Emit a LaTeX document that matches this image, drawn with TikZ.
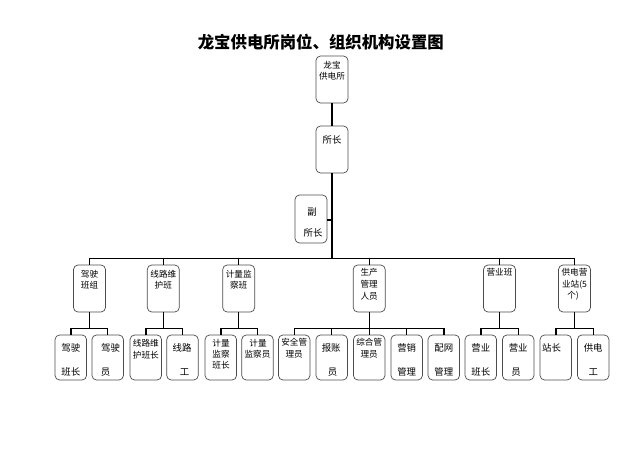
\documentclass[tikz,border=0pt]{standalone}
\usepackage{fontspec}
\newfontfamily\cjk{Noto Sans CJK SC}
\begin{document}
\begin{tikzpicture}[x=1pt,y=-1pt,
  box/.style={draw=black!70,line width=0.7pt,rounded corners=4.5pt,minimum width=32pt,inner sep=0pt},
  tx/.style={font=\cjk\fontsize{8.6}{10}\selectfont,inner sep=0pt},
  big/.style={font=\cjk\fontsize{9.4}{11}\selectfont,inner sep=0pt},
  conn/.style={line width=1.4pt,black}]
\useasboundingbox (0,0) rectangle (640,452);
\node[font=\cjk\bfseries\fontsize{16.4}{18}\selectfont] (title) at (320.8,41.7) {龙宝供电所岗位、组织机构设置图};
% top chain
\node[box,minimum height=47pt] (root) at (332,79.5) {};
\node[tx] (r1) at (332,65) {龙宝};
\node[tx] (r2) at (332,76) {供电所};
\node[box,minimum height=47pt] (suo) at (332,149.5) {};
\node[big] (s1) at (332,140) {所长};
\node[box,minimum height=48pt] (fu) at (311,219) {};
\node[big] (f1t) at (312,211.7) {副};
\node[big] (f2t) at (313,233) {所长};
% level 2
\foreach \n/\x in {d2a/89.5,d2b/163.3,d2c/238.7,d2d/369.2,d2e/499.5,d2f/574.5}
  \node[box,minimum height=47pt] (\n) at (\x,288.5) {};
\node[tx] (t2a1) at (89.5,274) {驾驶};
\node[tx] (t2a2) at (89.5,285.5) {班组};
\node[tx] (t2b1) at (163.3,274) {线路维};
\node[tx] (t2b2) at (163.3,285.5) {护班};
\node[tx] (t2c1) at (238.7,274) {计量监};
\node[tx] (t2c2) at (238.7,285.5) {察班};
\node[tx] (t2d1) at (369.2,272.7) {生产};
\node[tx] (t2d2) at (369.2,284.3) {管理};
\node[tx] (t2d3) at (369.2,296) {人员};
\node[tx] (t2e1) at (499.5,272.5) {营业班};
\node[tx] (t2f1) at (574.5,272.5) {供电营};
\node[tx] (t2f2) at (574.5,284.3) {业站(5};
\node[tx] (t2f3) at (573,296) {个)};
% level 3
\foreach \n/\x in {a1/70.8,a2/107.7,b1/145.8,b2/182.5,c1/220.8,c2/257.5,d1/294.2,d2/331.7,d3/369.2,d4/406.7,d5/443.8,e1/480.8,e2/518.2,f1/555.8,f2/593.2}
  \node[box,minimum width=31.5pt,minimum height=45pt] (\n) at (\x,357.5) {};
\node[big] (ta11) at (70.8,348.3) {驾驶};
\node[big] (ta12) at (70.8,371.7) {班长};
\node[big] (ta21) at (110.5,348.3) {驾驶};
\node[big] (ta22) at (105.5,371.7) {员};
\node[tx] (tb11) at (145.8,343.5) {线路维};
\node[tx] (tb12) at (145.8,355) {护班长};
\node[big] (tb21) at (182,348.3) {线路};
\node[big] (tb22) at (184.5,371.7) {工};
\node[tx] (tc11) at (221,343) {计量};
\node[tx] (tc12) at (221,354) {监察};
\node[tx] (tc13) at (221,365) {班长};
\node[tx] (tc21) at (258,343) {计量};
\node[tx] (tc22) at (257.5,354) {监察员};
\node[tx] (td11) at (294.2,342.5) {安全管};
\node[tx] (td12) at (294.2,354) {理员};
\node[big] (td21) at (331.2,348.3) {报账};
\node[big] (td22) at (332.5,371.7) {员};
\node[tx] (td31) at (369.2,342.5) {综合管};
\node[tx] (td32) at (369.2,354) {理员};
\node[big] (td41) at (406.7,348.3) {营销};
\node[big] (td42) at (406.7,371.7) {管理};
\node[big] (td51) at (443.8,348.3) {配网};
\node[big] (td52) at (443.8,371.7) {管理};
\node[big] (te11) at (480.8,348.3) {营业};
\node[big] (te12) at (480.8,371.7) {班长};
\node[big] (te21) at (518.2,348.3) {营业};
\node[big] (te22) at (516,371.7) {员};
\node[big] (tf11) at (551.5,348.3) {站长};
\node[big] (tf21) at (593.2,348.3) {供电};
\node[big] (tf22) at (593.2,371.7) {工};
% connectors
\coordinate (bus) at (332,258.3);
\coordinate (sub) at (0,328.3);
\coordinate (fuj) at (332,220);
\draw[conn] (root.south) -- (suo.north);
\draw[conn] (suo.south) -- (bus);
\draw[conn] (fu.east |- fuj) -- (fuj);
\draw[conn] (d2a.north) -- (d2a.north |- bus) -- (d2f.north |- bus) -- (d2f.north);
\foreach \n in {d2b,d2c,d2d,d2e}
  \draw[conn] (\n.north) -- (\n.north |- bus);
\foreach \p/\l/\r in {d2a/a1/a2,d2b/b1/b2,d2c/c1/c2,d2d/d1/d5,d2e/e1/e2,d2f/f1/f2} {
  \draw[conn] (\p.south) -- (\p.south |- sub);
  \draw[conn] (\l.north) -- (\l.north |- sub) -- (\r.north |- sub) -- (\r.north);
}
\foreach \n in {d2,d3,d4}
  \draw[conn] (\n.north) -- (\n.north |- sub);
\end{tikzpicture}
\end{document}
